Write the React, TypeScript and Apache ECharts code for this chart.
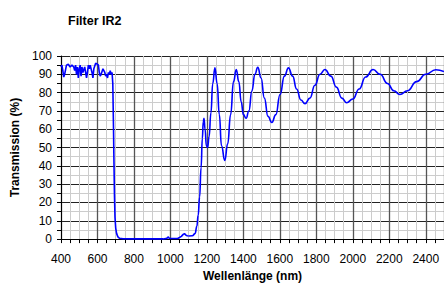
import React, { useEffect, useRef } from "react";
import * as echarts from "echarts";

const title = "Filter IR2";
const xName = "Wellenlänge (nm)";
const yName = "Transmission (%)";

// Blocking region (sharp, noisy)
const blockWavelengths = [
  400, 405, 410, 415, 420, 430, 440, 450, 460, 470, 475, 480, 485, 490, 495, 500, 505, 510, 515, 520,
  530, 540, 545, 550, 555, 560, 570, 575, 580, 590, 600, 605, 610, 615, 620, 630, 640, 645, 650, 655,
  660, 665, 670, 675, 680, 684, 688, 690, 693, 696, 700, 705, 712, 720, 740, 800, 900, 960, 980, 987,
  995, 1040, 1060, 1070, 1077, 1085, 1092, 1100,
];
const blockValues = [
  94, 95, 92, 88.5, 90, 95, 95.5, 94, 95, 94, 92, 95, 90, 94, 88, 93, 95, 89, 94, 91,
  94, 88, 91, 95, 93, 95, 91, 88, 93, 96, 95.5, 95, 91, 89, 90, 93, 91, 89, 90, 88,
  91, 90, 92, 90, 91, 85, 60, 45, 25, 12, 6, 3, 1.2, 0.5, 0.2, 0.1, 0.1, 0.1, 0.4, 1.2,
  0.3, 0.3, 1.5, 2.6, 3, 2.2, 1.8, 1.7,
];

// Pass region (smooth interference fringes)
const passWavelengths = [
  1100, 1120, 1135, 1145, 1152, 1160, 1168, 1175, 1180, 1184, 1190, 1197, 1204, 1212, 1222, 1232, 1244,
  1256, 1268, 1280, 1298, 1314, 1330, 1346, 1361, 1375, 1388, 1400, 1415, 1430, 1447, 1463, 1479,
  1497, 1515, 1535, 1556, 1578, 1601, 1625, 1647, 1670, 1692, 1715, 1738, 1765, 1792, 1820, 1847,
  1880, 1910, 1940, 1966, 2000, 2035, 2070, 2111, 2150, 2190, 2225, 2258, 2300, 2350, 2400, 2455, 2500,
];
const passValues = [
  1.7, 1.8, 3, 7, 13, 23, 39, 55, 64, 66, 60, 51, 50, 56, 69, 85, 93.5,
  85, 68, 51, 43, 52, 68, 86, 92.6, 86, 75, 68, 66, 70, 81, 90, 93.8,
  88, 77, 67, 63.7, 68, 79, 89, 93.5, 89, 82, 76, 74, 77, 84, 90, 92.6,
  89, 83, 77, 74.5, 76.5, 82, 88.5, 92.6, 90, 85, 81, 79, 81, 86, 90, 92.5, 91.5,
];

const FONT = "'Liberation Sans', Arial, sans-serif";

export default function App() {
  const ref = useRef<HTMLDivElement>(null);
  useEffect(() => {
    const chart = echarts.init(ref.current!, null, { renderer: "svg" });
    const lineStyle = { color: "#0000ff", width: 1.6 };
    chart.setOption({
      animation: false,
      title: {
        text: title,
        left: 63,
        top: 9.5,
        textStyle: { fontFamily: FONT, fontSize: 12.5, fontWeight: "bold", color: "#000" },
      },
      grid: { left: 61, right: -4.5, top: 56, bottom: 41.5, containLabel: false },
      xAxis: {
        type: "value",
        min: 400,
        max: 2500,
        interval: 200,
        name: xName,
        nameLocation: "middle",
        nameGap: 24,
        nameTextStyle: { fontFamily: FONT, fontSize: 12, fontWeight: "bold", color: "#000" },
        axisLine: { show: true, onZero: false, lineStyle: { color: "#000", width: 1 } },
        axisTick: { show: true, length: 4, lineStyle: { color: "#000" } },
        minorTick: { show: true, splitNumber: 4, length: 4, lineStyle: { color: "#000" } },
        axisLabel: {
          showMaxLabel: false,
          margin: 14,
          fontFamily: FONT,
          fontSize: 12,
          color: "#000",
          formatter: (v: number) => String(v),
        },
        splitLine: { show: true, lineStyle: { color: "#555", width: 1.3 } },
        minorSplitLine: { show: true, lineStyle: { color: "#cccccc", width: 1 } },
      },
      yAxis: {
        type: "value",
        min: 0,
        max: 100,
        interval: 10,
        name: yName,
        nameLocation: "middle",
        nameGap: 36,
        nameTextStyle: { fontFamily: FONT, fontSize: 12, fontWeight: "bold", color: "#000" },
        axisLine: { show: true, lineStyle: { color: "#000", width: 1 } },
        axisTick: { show: true, length: 4, lineStyle: { color: "#000" } },
        minorTick: { show: true, splitNumber: 2, length: 4, lineStyle: { color: "#000" } },
        axisLabel: { margin: 9, fontFamily: FONT, fontSize: 12, color: "#000" },
        splitLine: { show: true, lineStyle: { color: "#222", width: 1.2 } },
        minorSplitLine: { show: true, lineStyle: { color: "#cccccc", width: 1 } },
      },
      series: [
        {
          type: "line",
          data: blockWavelengths.map((w, i) => [w, blockValues[i]]),
          showSymbol: false,
          symbol: "none",
          lineStyle,
          z: 5,
        },
        {
          type: "line",
          data: passWavelengths.map((w, i) => [w, passValues[i]]),
          showSymbol: false,
          symbol: "none",
          smooth: 0.5,
          smoothMonotone: "x",
          lineStyle,
          z: 5,
        },
      ],
    });
    return () => chart.dispose();
  }, []);
  return <div ref={ref} style={{ width: 444, height: 287, position: "absolute", left: 0, top: 0 }} />;
}
